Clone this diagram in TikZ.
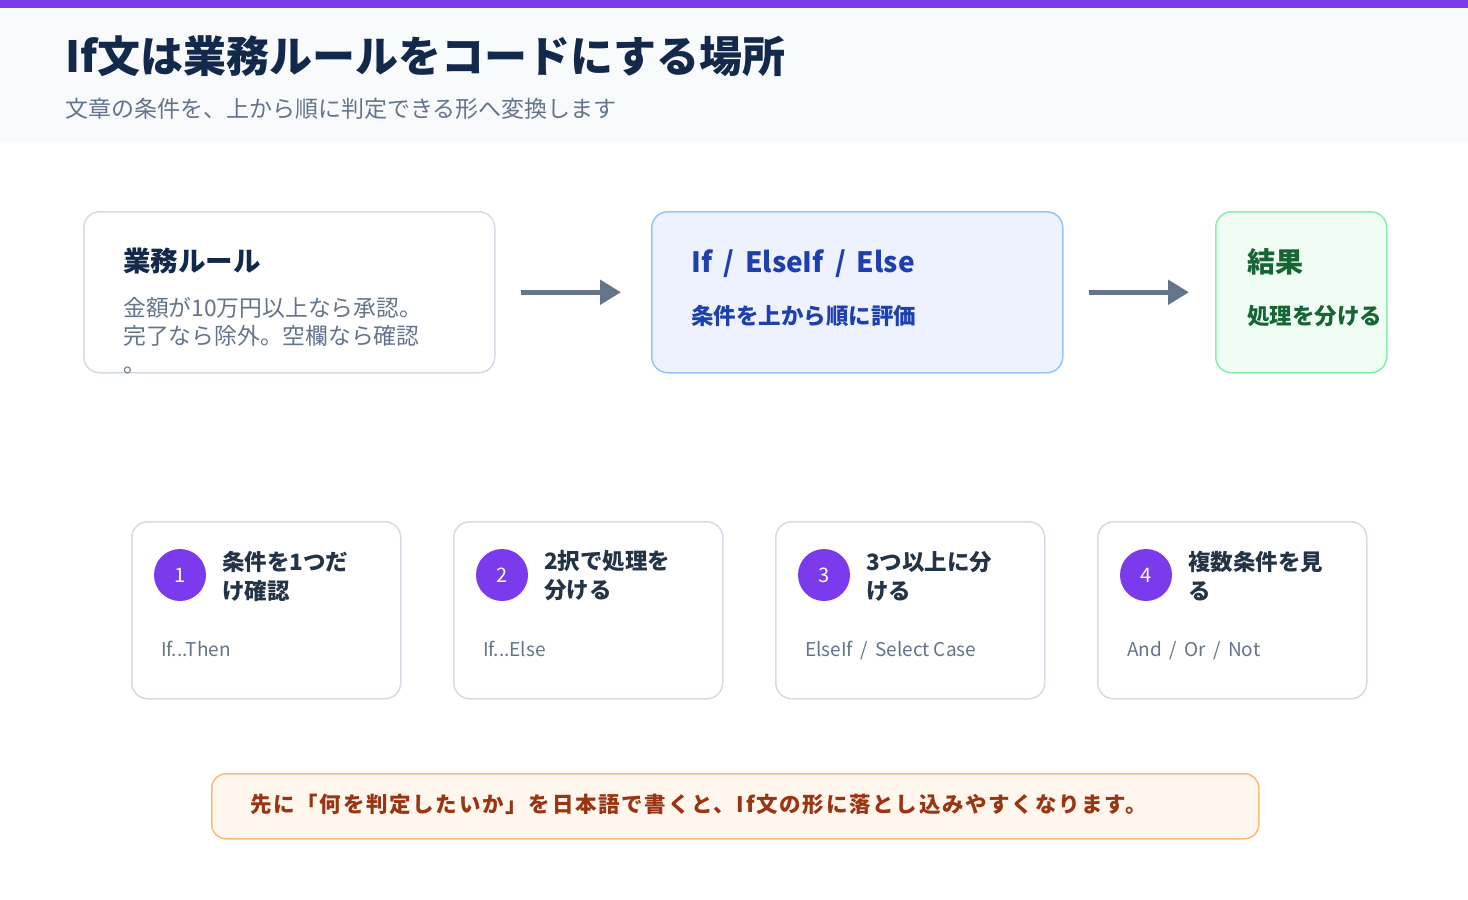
\documentclass[tikz,border=0pt]{standalone}
\usepackage{fontspec}
\setmainfont{Noto Sans CJK JP}
\usepackage{xcolor}
\usetikzlibrary{arrows.meta, positioning}
\definecolor{accent}{HTML}{7C3AED}
\definecolor{headbg}{HTML}{F8FAFC}
\definecolor{ink}{HTML}{13294B}
\definecolor{muted}{HTML}{64748B}
\definecolor{edge}{HTML}{D5DBE6}
\definecolor{cardink}{HTML}{243447}
\definecolor{blueink}{HTML}{1E40AF}
\definecolor{bluefill}{HTML}{EEF2FF}
\definecolor{blueedge}{HTML}{93C5FD}
\definecolor{greenink}{HTML}{166534}
\definecolor{greenfill}{HTML}{F0FDF4}
\definecolor{greenedge}{HTML}{86EFAC}
\definecolor{noteink}{HTML}{9A3412}
\definecolor{notefill}{HTML}{FFF7ED}
\definecolor{noteedge}{HTML}{FDBA74}

\begin{document}
\begin{tikzpicture}[
          x=1pt, y=-1pt,
          box/.style={draw=edge, fill=white, line width=1.5pt, rounded corners=16pt,
            anchor=north west, inner sep=0pt, minimum height=161pt},
          card/.style={draw=edge, fill=white, line width=1.5pt, rounded corners=16pt,
            anchor=north west, inner sep=0pt, minimum width=269pt, minimum height=177pt},
          badge/.style={circle, fill=accent, text=white, inner sep=0pt, minimum size=52pt,
            font=\fontsize{20}{24}\selectfont},
          label/.style={anchor=base west, inner sep=0pt},
          flow/.style={draw=muted, line width=5pt, -{Triangle[length=21pt,width=24pt]}}
        ]
          \useasboundingbox[fill=white] (0,0) rectangle (1468,900);
          % header band
          \fill[headbg] (0,8) rectangle (1468,142);
          \fill[accent] (0,0) rectangle (1468,8);
          \node[label, text=ink, font=\fontsize{43}{48}\selectfont\bfseries] (title) at (65,72)
            {If文は業務ルールをコードにする場所};
          \node[label, text=muted, font=\fontsize{23}{27}\selectfont] (subtitle) at (65,117)
            {文章の条件を、上から順に判定できる形へ変換します};

          % top row
          \node[box, minimum width=411pt] (rule) at (83,211) {};
          \node[box, minimum width=411pt, draw=blueedge, fill=bluefill] (cond) at (651,211) {};
          \node[box, minimum width=171pt, draw=greenedge, fill=greenfill] (result) at (1215,211) {};

          \node[label, text=ink, font=\fontsize{27.5}{32}\selectfont\bfseries] (ruletitle) at (123,271) {業務ルール};
          \node[anchor=north west, inner sep=0pt, align=left, text=muted,
            font=\fontsize{22.8}{28}\selectfont] (ruletext) at (123,297)
            {金額が10万円以上なら承認。\\完了なら除外。空欄なら確認\\。};
          \node[label, text=blueink, font=\fontsize{28}{32}\selectfont\bfseries] (condtitle) at (691,272)
            {If \,/\, ElseIf \,/\, Else};
          \node[label, text=blueink, font=\fontsize{22.5}{27}\selectfont\bfseries] (condtext) at (691,324) {条件を上から順に評価};
          \node[label, text=greenink, font=\fontsize{28}{32}\selectfont\bfseries] (resulttitle) at (1247,272) {結果};
          \node[label, text=greenink, font=\fontsize{22.5}{27}\selectfont\bfseries] (resulttext) at (1247,324) {処理を分ける};

          \draw[flow, shorten <=25pt, shorten >=30pt] (rule) -- (cond);
          \draw[flow, shorten <=25pt, shorten >=26pt] (cond) -- (result);

          % cards
          \foreach \i/\x/\head/\body in {1/131/{条件を1つだ\\け確認}/{If...Then},
              2/453/{2択で処理を\\分ける}/{If...Else},
              3/775/{3つ以上に分\\ける}/{ElseIf \,/\, Select Case},
              4/1097/{複数条件を見\\る}/{And \,/\, Or \,/\, Not}} {
            \node[card] (card\i) at (\x,521) {};
            \node[badge] (badge\i) at (\x+49,575) {\i};
            \node[anchor=west, inner sep=0pt, align=left, text=cardink,
              font=\fontsize{22.5}{29}\selectfont\bfseries] (head\i) at (\x+91,576) {\head};
            \node[label, text=muted, font=\fontsize{19}{23}\selectfont] (body\i) at (\x+30,656) {\body};
          }

          % note
          \node[draw=noteedge, fill=notefill, line width=1.5pt, rounded corners=14pt, anchor=north west,
            inner sep=0pt, minimum width=1047pt, minimum height=65pt] (note) at (211,773) {};
          \node[anchor=west, inner sep=0pt, text=noteink,
            font=\fontsize{21.5}{25}\selectfont\bfseries\addfontfeatures{LetterSpace=8}] (notetext)
            at (250,804) {先に「何を判定したいか」を日本語で書くと、If文の形に落とし込みやすくなります。};
        \end{tikzpicture}
\end{document}
